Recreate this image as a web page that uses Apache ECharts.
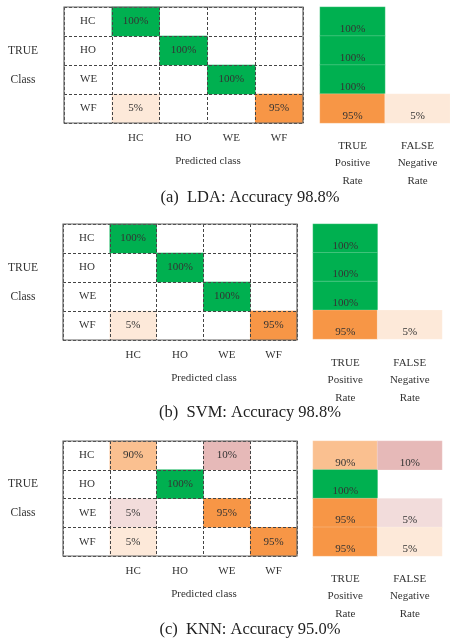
<!DOCTYPE html>
<html>
<head>
<meta charset="utf-8">
<script src="https://cdn.jsdelivr.net/npm/echarts@6/dist/echarts.min.js"></script>
<style>
html, body { margin: 0; padding: 0; background: #fff; }
#main { width: 450px; height: 638px; }
</style>
</head>
<body>
<div id="main"></div>
<script>
var classes = ['HC', 'HO', 'WE', 'WF'];
var rateLabels = ['TRUE\nPositive\nRate', 'FALSE\nNegative\nRate'];

// rows = true class, columns = predicted class (percent)
var ldaMatrix = [[100, 0, 0, 0], [0, 100, 0, 0], [0, 0, 100, 0], [5, 0, 0, 95]];
var svmMatrix = [[100, 0, 0, 0], [0, 100, 0, 0], [0, 0, 100, 0], [5, 0, 0, 95]];
var knnMatrix = [[90, 0, 10, 0], [0, 100, 0, 0], [5, 0, 95, 0], [5, 0, 0, 95]];

var ldaTPR = [100, 100, 100, 95], ldaFNR = [0, 0, 0, 5];
var svmTPR = [100, 100, 100, 95], svmFNR = [0, 0, 0, 5];
var knnTPR = [90, 100, 95, 95], knnFNR = [10, 0, 5, 5];

var captions = ['(a)  LDA: Accuracy 98.8%', '(b)  SVM: Accuracy 98.8%', '(c)  KNN: Accuracy 95.0%'];

var FONT = '"Liberation Serif", "DejaVu Serif", serif';
var TXT = '#333';

// colours like the Excel shading of the original
function cellColor(v, onDiag, row) {
    if (onDiag) {
        if (v >= 100) return '#00b050';
        if (v >= 95) return '#f79646';
        return '#fac090';
    }
    if (v >= 10) return '#e6b9b8';
    if (classes[row] === 'WF') return '#fde9d9';
    return '#f2dcdb';
}

var panels = [
    { mat: [ldaMatrix], tpr: ldaTPR, fnr: ldaFNR,
      m: { left: 64, top: 7, width: 239, height: 116 }, r: { left: 320, top: 7, width: 130, height: 116 },
      trueY: 51, classY: 80, predX: 208, predY: 161, capY: 198, rateMargin: 14 },
    { mat: [svmMatrix], tpr: svmTPR, fnr: svmFNR,
      m: { left: 63, top: 224, width: 234, height: 116 }, r: { left: 313, top: 224, width: 129, height: 115 },
      trueY: 268, classY: 297, predX: 204, predY: 378, capY: 413, rateMargin: 15 },
    { mat: [knnMatrix], tpr: knnTPR, fnr: knnFNR,
      m: { left: 63, top: 441, width: 234, height: 115 }, r: { left: 313, top: 441, width: 129, height: 115 },
      trueY: 484, classY: 513, predX: 204, predY: 594, capY: 630, rateMargin: 14 }
];

var grid = [], xAxis = [], yAxis = [], series = [], graphic = [];

function txt(text, x, y, size, color) {
    return {
        type: 'text', x: x, y: y, silent: true,
        style: { text: text, fill: color || TXT, fontSize: size || 11, fontFamily: FONT,
                 align: 'center', verticalAlign: 'middle' }
    };
}

panels.forEach(function (p, k) {
    var gi = grid.length;
    var dash = { color: '#444', type: [3, 2], width: 1 };
    // confusion matrix, solid frame drawn above the dashed split lines
    grid.push({ left: p.m.left, top: p.m.top, width: p.m.width, height: p.m.height, z: 8,
                show: true, borderColor: '#666', borderWidth: 1.2, backgroundColor: 'transparent' });
    xAxis.push({ type: 'category', gridIndex: gi, data: [''].concat(classes), z: 5,
                 axisLine: { show: false }, axisTick: { show: false },
                 axisLabel: { margin: 10, fontSize: 11, color: TXT, fontFamily: FONT },
                 splitLine: { show: true, lineStyle: dash } });
    yAxis.push({ type: 'category', gridIndex: gi, data: classes, inverse: true, z: 5,
                 axisLine: { show: false }, axisTick: { show: false },
                 axisLabel: { inside: true, margin: 16, fontSize: 11, color: TXT, fontFamily: FONT },
                 splitLine: { show: true, lineStyle: dash } });
    var cells = [];
    var mat = p.mat[0];
    mat.forEach(function (row, i) {
        row.forEach(function (v, j) {
            if (v > 0) cells.push({ value: [j + 1, i, v], itemStyle: { color: cellColor(v, i === j, i) } });
        });
    });
    series.push({ type: 'heatmap', xAxisIndex: gi, yAxisIndex: gi, data: cells, z: 2,
                  emphasis: { disabled: true },
                  label: { show: true, fontSize: 11, color: TXT, fontFamily: FONT,
                           formatter: function (d) { return d.value[2] + '%'; } } });

    // rates panel
    var ri = grid.length;
    grid.push({ left: p.r.left, top: p.r.top, width: p.r.width, height: p.r.height, show: false });
    xAxis.push({ type: 'category', gridIndex: ri, data: rateLabels,
                 axisLine: { show: false }, axisTick: { show: false }, splitLine: { show: false },
                 axisLabel: { margin: p.rateMargin, fontSize: 11, lineHeight: 17.5, color: TXT, fontFamily: FONT } });
    yAxis.push({ type: 'category', gridIndex: ri, data: classes, inverse: true, show: false });
    var rates = [];
    p.tpr.forEach(function (v, i) {
        if (v > 0) rates.push({ value: [0, i, v], itemStyle: { color: cellColor(v, true, i) } });
    });
    p.fnr.forEach(function (v, i) {
        if (v > 0) rates.push({ value: [1, i, v], itemStyle: { color: cellColor(v, false, i) } });
    });
    series.push({ type: 'heatmap', xAxisIndex: ri, yAxisIndex: ri, data: rates,
                  emphasis: { disabled: true },
                  itemStyle: { borderColor: 'rgba(255,255,255,0.35)', borderWidth: 0.6 },
                  label: { show: true, position: 'insideBottom', distance: 2, fontSize: 11, color: TXT, fontFamily: FONT,
                           formatter: function (d) { return d.value[2] + '%'; } } });

    graphic.push(txt('TRUE', 23, p.trueY, 11.5));
    graphic.push(txt('Class', 23, p.classY, 11.5));
    graphic.push(txt('Predicted class', p.predX, p.predY, 11));
    graphic.push(txt(captions[k], 250, p.capY, 16.5, '#222'));
});

var myChart = echarts.init(document.getElementById('main'));
myChart.setOption({
    animation: false,
    backgroundColor: '#fff',
    grid: grid,
    xAxis: xAxis,
    yAxis: yAxis,
    series: series,
    graphic: graphic
});
</script>
</body>
</html>
